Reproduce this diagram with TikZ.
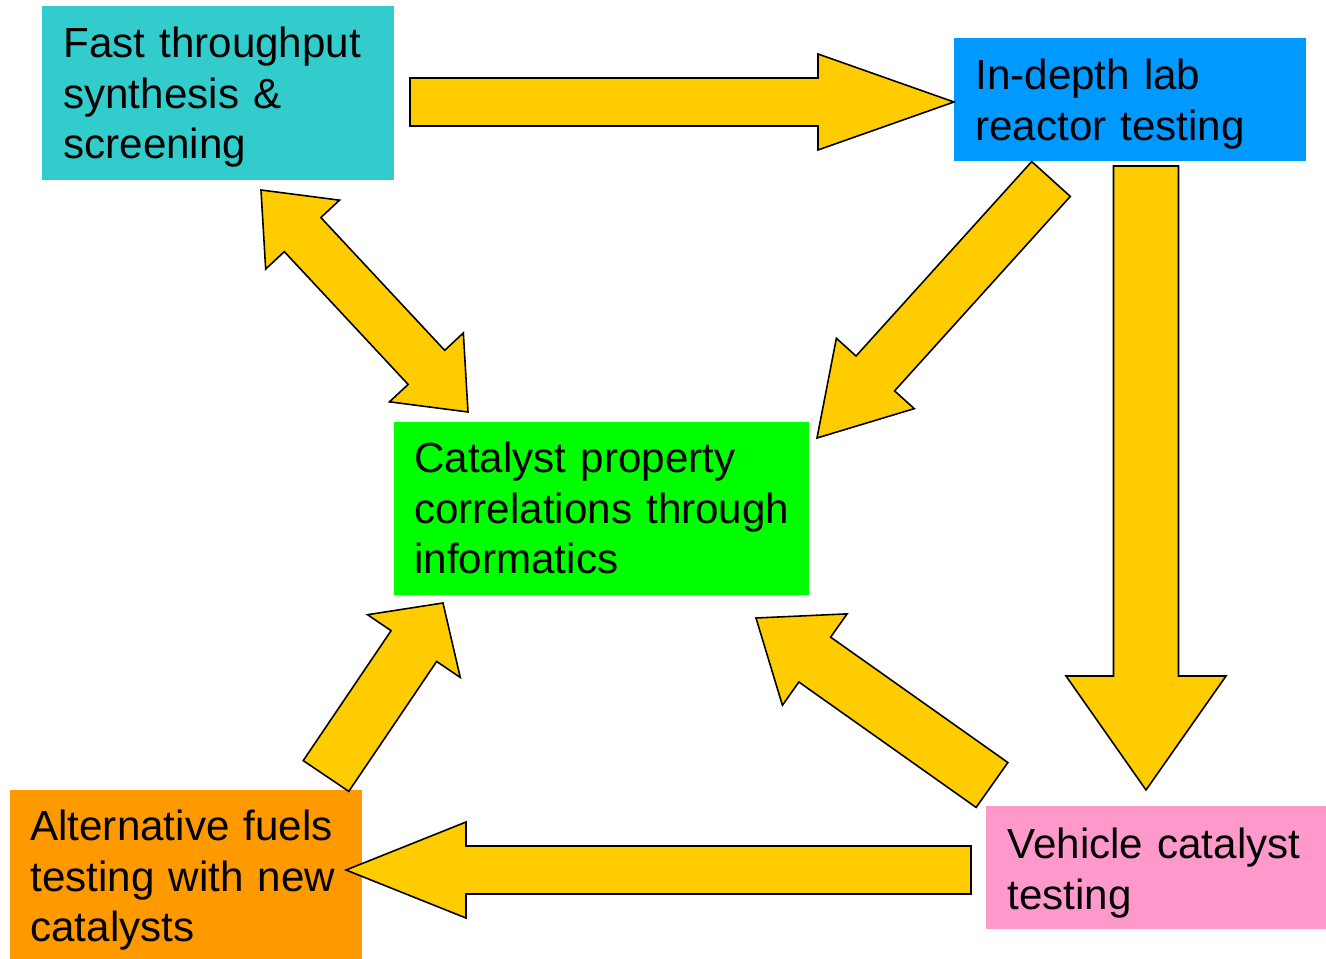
\documentclass[tikz,border=0pt]{standalone}
\usepackage{fontspec}
\setmainfont{Liberation Sans}
\usetikzlibrary{calc}
\definecolor{fastcol}{HTML}{33CCCC}
\definecolor{labcol}{HTML}{0099FF}
\definecolor{infocol}{HTML}{00FF00}
\definecolor{altcol}{HTML}{FF9900}
\definecolor{vehcol}{HTML}{FF99CC}
\definecolor{arrowcol}{HTML}{FFCC00}
\tikzset{
  stage/.style={fill=#1, anchor=north west, inner xsep=0.42cm, inner ysep=0pt,
    align=left, text height=1.02cm, font=\fontsize{24}{28.9}\selectfont},
  blockarrow/.style={draw=black, fill=arrowcol, line width=0.9pt, line join=miter},
}
% from, to, half body, half head, head length
\newcommand{\fatarrow}[5]{%
  \coordinate (fa) at ($(#2)!#5!(#1)$);
  \draw[blockarrow] ($(#1)!#3!90:(#2)$) -- ($(fa)!#3!90:(#2)$) -- ($(fa)!#4!90:(#2)$)
    -- (#2) -- ($(fa)!#4!-90:(#2)$) -- ($(fa)!#3!-90:(#2)$) -- ($(#1)!#3!-90:(#2)$) -- cycle;
}
\newcommand{\dblarrow}[5]{%
  \coordinate (da) at ($(#1)!#5!(#2)$);
  \coordinate (db) at ($(#2)!#5!(#1)$);
  \draw[blockarrow] (#1) -- ($(da)!#4!90:(#2)$) -- ($(da)!#3!90:(#2)$) -- ($(db)!#3!90:(#2)$)
    -- ($(db)!#4!90:(#2)$) -- (#2) -- ($(db)!#4!-90:(#2)$) -- ($(db)!#3!-90:(#2)$)
    -- ($(da)!#3!-90:(#2)$) -- ($(da)!#4!-90:(#2)$) -- cycle;
}
\begin{document}
\begin{tikzpicture}[x=0.02cm, y=-0.02cm]
  \useasboundingbox (0,0) rectangle (1326,959);
  \node[stage=fastcol, text width=6.2cm, text depth=2.46cm] (fast) at (42,6)
    {Fast throughput\\synthesis \&\\screening};
  \node[stage=labcol, text width=6.2cm, text depth=1.44cm] (lab) at (954,38)
    {In-depth lab\\reactor testing};
  \node[stage=infocol, inner xsep=0.4cm, text width=7.5cm, text height=1.0cm, text depth=2.46cm] (info) at (394,422)
    {Catalyst property\\correlations~through\\informatics};
  \node[stage=altcol, inner xsep=0.4cm, text width=6.24cm, text height=1.0cm, text depth=2.38cm] (alt) at (10,790)
    {Alternative fuels\\testing with new\\catalysts};
  \node[stage=vehcol, text width=5.96cm, text height=1.04cm, text depth=1.42cm] (veh) at (986,806)
    {Vehicle catalyst\\testing};

  \coordinate (t1) at (410,102);  \coordinate (h1) at (954,102);
  \coordinate (t2) at (1146,166); \coordinate (h2) at (1146,790);
  \coordinate (t3) at (971,870);  \coordinate (h3) at (346,870);
  \coordinate (d1) at (261,190);  \coordinate (d2) at (468,412);
  \coordinate (t4) at (1051,179); \coordinate (h4) at (817,438);
  \coordinate (t5) at (992,785);  \coordinate (h5) at (756,618);
  \coordinate (t6) at (326,776);  \coordinate (h6) at (443,603);

  \fatarrow{t1}{h1}{0.48cm}{0.96cm}{2.72cm}
  \fatarrow{t2}{h2}{0.65cm}{1.6cm}{2.28cm}
  \fatarrow{t3}{h3}{0.48cm}{0.96cm}{2.4cm}
  \dblarrow{d1}{d2}{0.5cm}{1.01cm}{1.22cm}
  \fatarrow{t4}{h4}{0.52cm}{1.05cm}{1.74cm}
  \fatarrow{t5}{h5}{0.55cm}{1.12cm}{1.44cm}
  \fatarrow{t6}{h6}{0.55cm}{1.12cm}{1.04cm}
\end{tikzpicture}
\end{document}
